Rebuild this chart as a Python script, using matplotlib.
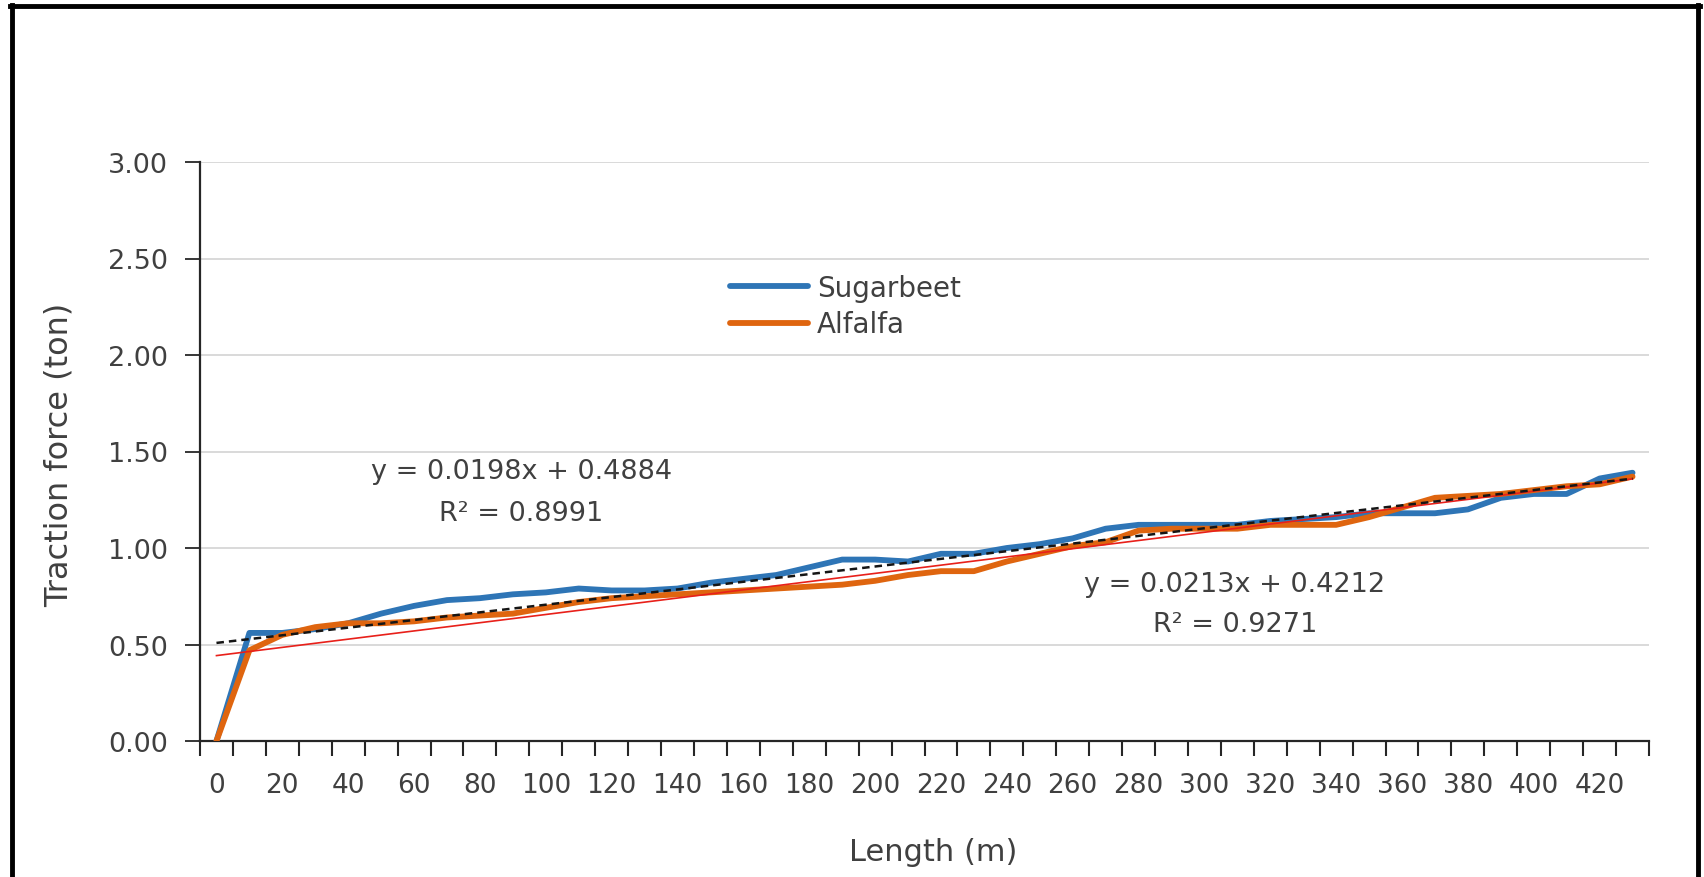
import matplotlib
matplotlib.use("Agg")
import matplotlib.pyplot as plt
from matplotlib.lines import Line2D
import numpy as np

plt.rcParams['font.family'] = ['DejaVu Sans']

# ---- data ----
lengths = [0, 10, 20, 30, 40, 50, 60, 70, 80, 90, 100, 110, 120, 130, 140, 150,
           160, 170, 180, 190, 200, 210, 220, 230, 240, 250, 260, 270, 280, 290,
           300, 310, 320, 330, 340, 350, 360, 370, 380, 390, 400, 410, 420, 430]
sugarbeet = [0.00, 0.56, 0.56, 0.58, 0.61, 0.66, 0.70, 0.73, 0.74, 0.76,
             0.77, 0.79, 0.78, 0.78, 0.79, 0.82, 0.84, 0.86, 0.90, 0.94,
             0.94, 0.93, 0.97, 0.97, 1.00, 1.02, 1.05, 1.10, 1.12, 1.12,
             1.12, 1.12, 1.14, 1.15, 1.16, 1.18, 1.18, 1.18, 1.20, 1.26,
             1.28, 1.28, 1.36, 1.39]
alfalfa = [0.00, 0.47, 0.55, 0.59, 0.61, 0.61, 0.62, 0.64, 0.65, 0.66,
           0.69, 0.72, 0.74, 0.75, 0.76, 0.77, 0.78, 0.79, 0.80, 0.81,
           0.83, 0.86, 0.88, 0.88, 0.93, 0.97, 1.01, 1.03, 1.09, 1.10,
           1.10, 1.10, 1.12, 1.12, 1.12, 1.16, 1.21, 1.26, 1.27, 1.28,
           1.30, 1.32, 1.33, 1.37]
series_names = ["Sugarbeet", "Alfalfa"]
trend_slopes = [0.0198, 0.0213]
trend_intercepts = [0.4884, 0.4212]
trend_r2 = [0.8991, 0.9271]
y_ticks = [0.0, 0.5, 1.0, 1.5, 2.0, 2.5, 3.0]

# ---- styling ----
W, H = 1704, 878
fig = plt.figure(figsize=(W / 100, H / 100), dpi=100)
fig.patch.set_facecolor('white')

def fx(px):
    return px / W

def fy(py):
    return 1 - py / H

ax = fig.add_axes([fx(200), fy(742), fx(1649) - fx(200), fy(163) - fy(742)])

txt_color = '#404040'
blue = '#2E75B6'
orange = '#DF650F'

n = len(lengths)
xs = np.arange(n)

ax.plot(xs, sugarbeet, color=blue, lw=4.2, solid_joinstyle='round',
        solid_capstyle='round', zorder=3, label=series_names[0])
ax.plot(xs, alfalfa, color=orange, lw=4.2, solid_joinstyle='round',
        solid_capstyle='round', zorder=4, label=series_names[1])

# Excel-style linear trendlines (category index starts at 1)
xi = xs + 1
ax.plot(xs, trend_slopes[0] * xi + trend_intercepts[0], color='#151515',
        lw=1.8, linestyle=(0, (3, 2)), zorder=6)
ax.plot(xs, trend_slopes[1] * xi + trend_intercepts[1], color='#E8201A',
        lw=1.2, zorder=5)

ax.set_xlim(-0.5, n - 0.5)
ax.set_ylim(0, 3)
ax.set_yticks(y_ticks)
ax.set_yticklabels([f"{v:.2f}" for v in y_ticks])
ax.yaxis.grid(True, color='#D9D9D9', lw=1.4)
ax.set_axisbelow(True)

ax.set_xticks(np.arange(-0.5, n, 1.0))
ax.set_xticklabels([])
ax.set_xticks(xs[::2], minor=True)
ax.set_xticklabels([str(v) for v in lengths[::2]], minor=True)
ax.tick_params(axis='x', which='major', length=11, width=1.5, color='#262626', direction='out')
ax.tick_params(axis='x', which='minor', length=0, pad=22, labelsize=19, labelcolor=txt_color)
ax.tick_params(axis='y', length=11, width=1.3, color='#262626', pad=12,
               labelsize=19.5, labelcolor=txt_color)

for s in ['top', 'right']:
    ax.spines[s].set_visible(False)
for s in ['left', 'bottom']:
    ax.spines[s].set_color('#262626')
    ax.spines[s].set_linewidth(1.6)

fig.text(fx(933), fy(853), "Length (m)", fontsize=22, color=txt_color,
         ha='center', va='center')
fig.text(fx(59), fy(455), "Traction force (ton)", fontsize=23, color=txt_color,
         ha='center', va='center', rotation=90)

# trendline equations
eq_fs = 19.5
ax.text(9.25, 1.40, f"y = {trend_slopes[0]:.4f}x + {trend_intercepts[0]:.4f}",
        ha='center', va='center', fontsize=eq_fs, color=txt_color)
ax.text(9.25, 1.18, f"R² = {trend_r2[0]:.4f}",
        ha='center', va='center', fontsize=eq_fs, color=txt_color)
ax.text(30.93, 0.813, f"y = {trend_slopes[1]:.4f}x + {trend_intercepts[1]:.4f}",
        ha='center', va='center', fontsize=eq_fs, color=txt_color)
ax.text(30.93, 0.606, f"R² = {trend_r2[1]:.4f}",
        ha='center', va='center', fontsize=eq_fs, color=txt_color)

leg = ax.legend(loc='upper left', bbox_to_anchor=(fx(730), fy(275)),
                bbox_transform=fig.transFigure, frameon=False, borderpad=0,
                borderaxespad=0, handlelength=2.8, handletextpad=0.32,
                labelspacing=0.3, fontsize=20)
for t in leg.get_texts():
    t.set_color(txt_color)

# outer black frame (left, top, right)
fig.add_artist(Line2D([fx(12), fx(12)], [0, fy(6)], color='black', lw=3.5,
                      transform=fig.transFigure))
fig.add_artist(Line2D([fx(10), fx(1700)], [fy(7), fy(7)], color='black', lw=3.5,
                      transform=fig.transFigure))
fig.add_artist(Line2D([fx(1698), fx(1698)], [0, fy(6)], color='black', lw=3.5,
                      transform=fig.transFigure))

fig.savefig("out.png", dpi=100, facecolor='white')
